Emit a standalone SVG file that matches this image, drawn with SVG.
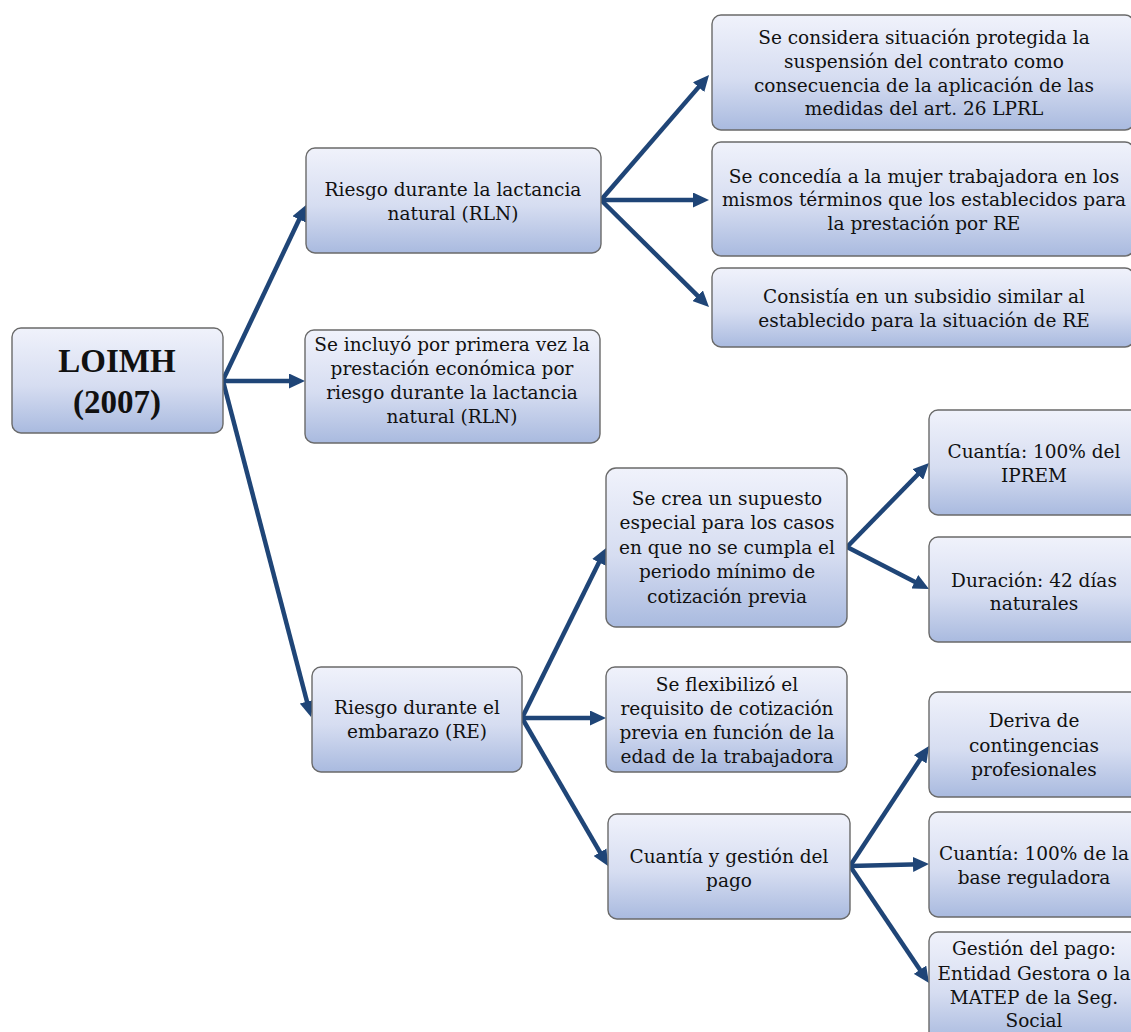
<svg xmlns="http://www.w3.org/2000/svg" width="1131" height="1032" viewBox="0 0 1131 1032">
  <defs>
    <linearGradient id="boxFill" x1="0" y1="0" x2="0" y2="1">
      <stop offset="0" stop-color="#f0f2fb"/>
      <stop offset="0.55" stop-color="#d6ddf1"/>
      <stop offset="1" stop-color="#a9badf"/>
    </linearGradient>
    <marker id="arrow" markerUnits="userSpaceOnUse" markerWidth="16" markerHeight="15" refX="8" refY="7.5" orient="auto">
      <path d="M0,0 L16,7.5 L0,15 Z" fill="#1f4577"/>
    </marker>
    <style>
      .box { fill: url(#boxFill); stroke: #6a6a6a; stroke-width: 1.4; }
      .t { font-family: "DejaVu Serif", "Liberation Serif", serif; font-size: 18.5px; fill: #111; text-anchor: middle; }
      .title { font-family: "Liberation Serif", "DejaVu Serif", serif; font-size: 33px; font-weight: bold; fill: #111; text-anchor: middle; }
      .link { stroke: #1f4577; stroke-width: 4.5; fill: none; marker-end: url(#arrow); }
    </style>
  </defs>

  <rect width="1131" height="1032" fill="#ffffff"/>

  <!-- connectors -->
  <g id="connectors">
    <path class="link" d="M223,380 L302.6,212.2"/>
    <path class="link" d="M223,381 L297,381"/>
    <path class="link" d="M223,381 L309,709.3"/>
    <path class="link" d="M601,200 L703.8,81.1"/>
    <path class="link" d="M601,200 L701,200"/>
    <path class="link" d="M601,200 L703.3,301.4"/>
    <path class="link" d="M522,718 L602.5,555.2"/>
    <path class="link" d="M522,718 L598,718"/>
    <path class="link" d="M522,718 L604,859.1"/>
    <path class="link" d="M847,547 L923.4,468.7"/>
    <path class="link" d="M847,547 L921.9,585.4"/>
    <path class="link" d="M850,866 L924.6,752.7"/>
    <path class="link" d="M850,866 L921,864.2"/>
    <path class="link" d="M850,866 L924.5,976.4"/>
  </g>

  <!-- root -->
  <g id="loimh">
    <rect class="box" x="12" y="328" width="211" height="105" rx="9"/>
    <text class="title" x="117" y="372">LOIMH</text>
    <text class="title" x="117" y="413">(2007)</text>
  </g>

  <!-- second level -->
  <g id="rln">
    <rect class="box" x="306" y="148" width="295" height="105" rx="9"/>
    <text class="t" x="453" y="196">Riesgo durante la lactancia</text>
    <text class="t" x="453" y="220">natural (RLN)</text>
  </g>
  <g id="primera-vez">
    <rect class="box" x="305" y="330" width="295" height="113" rx="9"/>
    <text class="t" x="452" y="351">Se incluyó por primera vez la</text>
    <text class="t" x="452" y="375">prestación económica por</text>
    <text class="t" x="452" y="399">riesgo durante la lactancia</text>
    <text class="t" x="452" y="423">natural (RLN)</text>
  </g>
  <g id="re">
    <rect class="box" x="312" y="667" width="210" height="105" rx="9"/>
    <text class="t" x="417" y="714">Riesgo durante el</text>
    <text class="t" x="417" y="738">embarazo (RE)</text>
  </g>

  <!-- RLN branch -->
  <g id="rln-suspension">
    <rect class="box" x="712" y="15" width="422" height="115" rx="9"/>
    <text class="t" x="924" y="44">Se considera situación protegida la</text>
    <text class="t" x="924" y="68">suspensión del contrato como</text>
    <text class="t" x="924" y="92">consecuencia de la aplicación de las</text>
    <text class="t" x="924" y="115">medidas del art. 26 LPRL</text>
  </g>
  <g id="rln-terminos">
    <rect class="box" x="712" y="142" width="422" height="114" rx="9"/>
    <text class="t" x="924" y="183">Se concedía a la mujer trabajadora en los</text>
    <text class="t" x="924" y="206">mismos términos que los establecidos para</text>
    <text class="t" x="924" y="230">la prestación por RE</text>
  </g>
  <g id="rln-subsidio">
    <rect class="box" x="712" y="268" width="422" height="79" rx="9"/>
    <text class="t" x="924" y="303">Consistía en un subsidio similar al</text>
    <text class="t" x="924" y="327">establecido para la situación de RE</text>
  </g>

  <!-- RE branch -->
  <g id="re-supuesto">
    <rect class="box" x="606" y="468" width="241" height="159" rx="10"/>
    <text class="t" x="727" y="505">Se crea un supuesto</text>
    <text class="t" x="727" y="529">especial para los casos</text>
    <text class="t" x="727" y="554">en que no se cumpla el</text>
    <text class="t" x="727" y="578">periodo mínimo de</text>
    <text class="t" x="727" y="603">cotización previa</text>
  </g>
  <g id="re-flexibilizo">
    <rect class="box" x="606" y="667" width="241" height="105" rx="9"/>
    <text class="t" x="727" y="691">Se flexibilizó el</text>
    <text class="t" x="727" y="715">requisito de cotización</text>
    <text class="t" x="727" y="739">previa en función de la</text>
    <text class="t" x="727" y="763">edad de la trabajadora</text>
  </g>
  <g id="re-cuantia-gestion">
    <rect class="box" x="608" y="814" width="242" height="105" rx="9"/>
    <text class="t" x="729" y="863">Cuantía y gestión del</text>
    <text class="t" x="729" y="887">pago</text>
  </g>

  <!-- third level -->
  <g id="iprem">
    <rect class="box" x="929" y="410" width="210" height="105" rx="9"/>
    <text class="t" x="1034" y="458">Cuantía: 100% del</text>
    <text class="t" x="1034" y="482">IPREM</text>
  </g>
  <g id="duracion">
    <rect class="box" x="929" y="537" width="210" height="105" rx="9"/>
    <text class="t" x="1034" y="587">Duración: 42 días</text>
    <text class="t" x="1034" y="610">naturales</text>
  </g>
  <g id="contingencias">
    <rect class="box" x="929" y="692" width="210" height="105" rx="9"/>
    <text class="t" x="1034" y="727">Deriva de</text>
    <text class="t" x="1034" y="752">contingencias</text>
    <text class="t" x="1034" y="776">profesionales</text>
  </g>
  <g id="base-reguladora">
    <rect class="box" x="929" y="812" width="210" height="105" rx="9"/>
    <text class="t" x="1034" y="860">Cuantía: 100% de la</text>
    <text class="t" x="1034" y="884">base reguladora</text>
  </g>
  <g id="gestion-pago">
    <rect class="box" x="929" y="932" width="210" height="110" rx="9"/>
    <text class="t" x="1034" y="955">Gestión del pago:</text>
    <text class="t" x="1034" y="980">Entidad Gestora o la</text>
    <text class="t" x="1034" y="1004">MATEP de la Seg.</text>
    <text class="t" x="1034" y="1027">Social</text>
  </g>
</svg>
